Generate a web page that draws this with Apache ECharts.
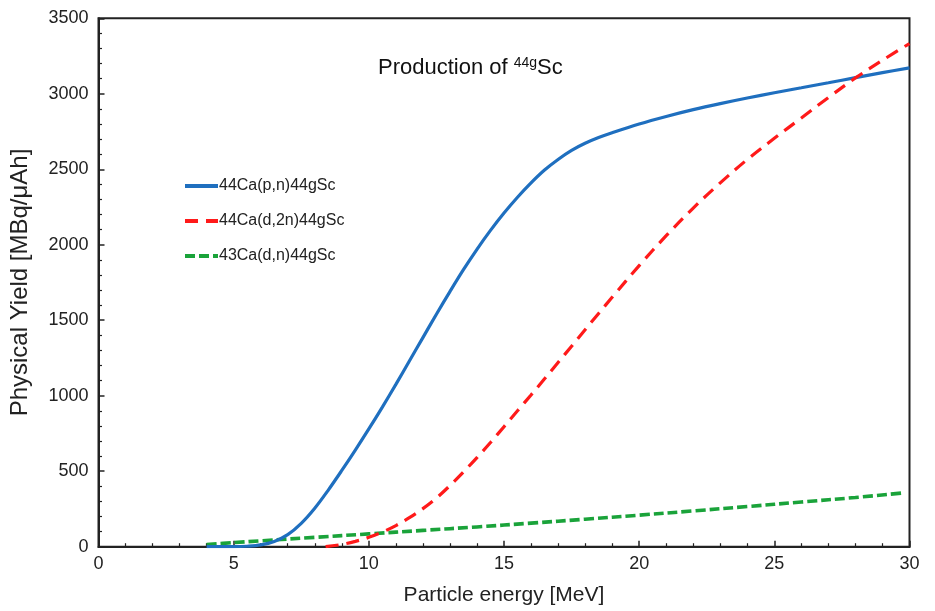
<!DOCTYPE html>
<html>
<head>
<meta charset="utf-8">
<script src="https://cdn.jsdelivr.net/npm/echarts@6/dist/echarts.min.js"></script>
<style>html,body{margin:0;padding:0;background:#fff;}#c{width:935px;height:611px;}</style>
</head>
<body>
<div id="c"></div>
<script>
// Data
const seriesNames = ['44Ca(p,n)44gSc', '44Ca(d,2n)44gSc', '43Ca(d,n)44gSc'];

const pnEnergy = [4, 5, 5.5, 6, 6.5, 7, 7.5, 8, 8.5, 9, 9.5, 10, 10.5, 11, 11.5, 12, 12.5, 13, 13.5, 14, 14.5, 15, 15.5, 16, 16.5, 17, 17.5, 18, 18.5, 19, 20, 21, 22, 23, 24, 25, 26, 27, 28, 29, 30];
const pnYield  = [0, 0, 3, 12, 35, 80, 155, 255, 375, 505, 640, 780, 925, 1075, 1230, 1385, 1540, 1690, 1835, 1970, 2095, 2210, 2315, 2410, 2495, 2565, 2625, 2672, 2710, 2742, 2800, 2850, 2895, 2935, 2972, 3007, 3040, 3073, 3107, 3140, 3172];

const d2nEnergy = [8.4, 9, 9.5, 10, 10.5, 11, 11.5, 12, 12.5, 13, 13.5, 14, 14.5, 15, 15.5, 16, 16.5, 17, 17.5, 18, 18.5, 19, 20, 21, 22, 23, 24, 25, 26, 27, 28, 29, 30];
const d2nYield  = [0, 15, 35, 62, 97, 140, 192, 252, 322, 405, 495, 590, 690, 795, 900, 1005, 1112, 1220, 1328, 1437, 1545, 1652, 1862, 2060, 2243, 2410, 2565, 2705, 2840, 2975, 3105, 3222, 3333];

const dnEnergy = [4, 5, 6, 8, 10, 12, 14, 16, 18, 20, 22, 24, 26, 28, 29.7];
const dnYield  = [15, 27, 39, 62, 85, 108, 131, 156, 182, 209, 237, 266, 296, 326, 355];

const xTicks = [0, 5, 10, 15, 20, 25, 30];
const yTicks = [0, 500, 1000, 1500, 2000, 2500, 3000, 3500];

const zip = (xs, ys) => xs.map((x, i) => [x, ys[i]]);

const chart = echarts.init(document.getElementById('c'), null, {renderer: 'canvas'});
const font = 'Liberation Sans, Arial, sans-serif';
const colors = ['#1f6fbf', '#ff1a1a', '#1aa33a'];
const dashes = ['solid', [13, 8], [10, 4]];

chart.setOption({
  animation: false,
  backgroundColor: '#fff',
  textStyle: {fontFamily: font},
  title: {
    text: 'Production of {sup|44g}Sc',
    left: 373, top: 51,
    textStyle: {
      fontFamily: font, fontSize: 22, fontWeight: 'normal', color: '#111',
      rich: {sup: {fontSize: 14, verticalAlign: 'top', padding: [0, 0, 10, 0], color: '#111', fontFamily: font}}
    }
  },
  legend: {
    orient: 'vertical',
    left: 178, top: 173,
    itemWidth: 33, itemHeight: 14, itemGap: 19,
    itemStyle: {opacity: 0},
    textStyle: {fontFamily: font, fontSize: 16, color: '#222', padding: [0, 0, 0, -4]},
    data: seriesNames.map((n, i) => ({name: n, lineStyle: {color: colors[i], width: 4, type: dashes[i]}}))
  },
  grid: {
    left: 98.5, right: 25.5, top: 18.3, bottom: 64.3,
    show: true, borderColor: '#222', borderWidth: 2, backgroundColor: 'transparent'
  },
  xAxis: {
    type: 'value', min: 0, max: 30, interval: 5,
    name: 'Particle energy [MeV]', nameLocation: 'middle', nameGap: 38,
    nameTextStyle: {fontFamily: font, fontSize: 21, color: '#222'},
    axisLine: {show: true, lineStyle: {color: '#222', width: 2}},
    axisTick: {show: true, inside: true, length: 6, lineStyle: {color: '#222', width: 1.5}},
    minorTick: {show: true, splitNumber: 5, length: 3.5, lineStyle: {color: '#222', width: 1.2}},
    splitLine: {show: false},
    axisLabel: {fontFamily: font, fontSize: 18, color: '#222', margin: 8,
      formatter: v => xTicks.includes(v) ? String(v) : ''}
  },
  yAxis: {
    type: 'value', min: 0, max: 3500, interval: 500,
    name: 'Physical Yield [MBq/\u03bcAh]', nameLocation: 'middle', nameGap: 66,
    nameTextStyle: {fontFamily: font, fontSize: 24, color: '#222'},
    axisLine: {show: true, lineStyle: {color: '#222', width: 2}},
    axisTick: {show: true, inside: true, length: 6, lineStyle: {color: '#222', width: 1.5}},
    minorTick: {show: true, splitNumber: 5, length: 3.5, lineStyle: {color: '#222', width: 1.2}},
    splitLine: {show: false},
    axisLabel: {fontFamily: font, fontSize: 18, color: '#222', margin: 10,
      formatter: v => yTicks.includes(v) ? String(v) : ''}
  },
  series: [
    {
      name: seriesNames[0], type: 'line', smooth: 0.35, showSymbol: false, symbol: 'none',
      data: zip(pnEnergy, pnYield),
      lineStyle: {color: colors[0], width: 3.2, type: dashes[0]},
      itemStyle: {color: colors[0]}, z: 3
    },
    {
      name: seriesNames[1], type: 'line', smooth: 0.35, showSymbol: false, symbol: 'none',
      data: zip(d2nEnergy, d2nYield),
      lineStyle: {color: colors[1], width: 3.2, type: dashes[1]},
      itemStyle: {color: colors[1]}, z: 4
    },
    {
      name: seriesNames[2], type: 'line', smooth: 0.35, showSymbol: false, symbol: 'none',
      data: zip(dnEnergy, dnYield),
      lineStyle: {color: colors[2], width: 3.6, type: dashes[2]},
      itemStyle: {color: colors[2]}, z: 2
    }
  ]
});
</script>
</body>
</html>
